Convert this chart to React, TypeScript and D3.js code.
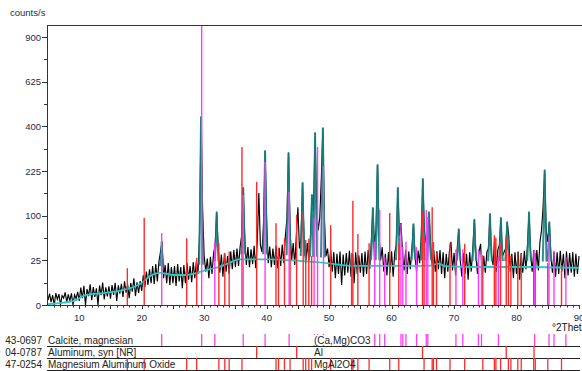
import React from 'react';
import * as d3 from 'd3';

// ---------- data ----------
const yTicks = [0, 25, 100, 225, 400, 625, 900];
const yMinorTicks = [6.25, 56.25, 156.25, 306.25, 506.25, 756.25];
const xTicks = [10, 20, 30, 40, 50, 60, 70, 80, 90];
const xMinorTicks = d3.range(6, 90, 1);

// background (counts) at 2theta
const bgTheta = [5, 7.5, 9.5, 11, 14, 17, 20, 21.5, 23, 25, 27, 30, 32.5, 34.5, 35.5, 40, 45, 50, 52, 55, 61, 66, 67.5, 68.5, 74, 82, 90];
const bgCounts = [0.01, 0.07, 0.3, 1.2, 1.8, 2.8, 6.1, 11, 13, 11.3, 11.3, 14.8, 18.4, 23.5, 26.2, 26.2, 24.6, 21.8, 20, 19.1, 19.1, 19.1, 21.5, 19, 18.1, 18.1, 17.2];

// observed counts, 2theta 5..90 step 0.25
const obsStart = 5;
const obsStep = 0.25;
const observed = [
  0.3, 1.6, 0.1, 1.2, 0, 1.8, 0.4, 1.5, 0, 1.1, 0.6, 2.0, 0.1, 1.4, 0.2, 1.7, 0, 1.3, 0.5, 2.2,
  0.2, 3.8, 0.6, 4.6, 0, 3.2, 1.0, 5.4, 0.3, 4.0, 0.8, 3.5, 0, 4.8, 1.2, 6.3, 0.4, 3.9, 0.9, 4.4,
  0.5, 5.0, 1.3, 6.2, 0.2, 4.8, 1.6, 5.6, 0.8, 7.0, 1.9, 5.2, 0.6, 6.0, 2.2, 9.0, 1.0, 6.4, 1.8, 7.2,
  2.5, 11, 4, 14, 5, 16, 6, 19, 5.5, 21, 7, 23, 35, 50, 9, 20, 6, 22, 5, 18,
  6, 19, 4.5, 21, 7, 18, 3.5, 20, 6, 22, 8, 19, 6.5, 23, 9, 24, 12, 60, 443, 110,
  30, 14, 27, 9, 29, 12, 33, 45, 108, 40, 13, 32, 10, 34, 14, 30, 12, 36, 16, 38,
  18, 40, 19, 42, 60, 172, 55, 20, 42, 18, 39, 21, 44, 17, 50, 157, 45, 35, 80, 297,
  90, 22, 43, 18, 40, 20, 44, 17, 41, 19, 46, 22, 60, 95, 290, 70, 25, 48, 20, 60,
  120, 40, 55, 187, 50, 22, 48, 25, 55, 152, 110, 371, 120, 70, 95, 200, 392, 90, 30, 40,
  18, 38, 14, 35, 9, 33, 12, 36, 5, 32, 11, 34, 13, 37, 10, 33, 6, 35, 12, 31,
  13, 34, 10, 36, 12, 38, 16, 50, 118, 45, 70, 246, 60, 25, 42, 14, 33, 11, 35, 13,
  36, 10, 34, 45, 172, 60, 84, 35, 15, 38, 12, 36, 16, 40, 82, 30, 14, 37, 22, 60,
  199, 70, 50, 55, 108, 45, 20, 38, 14, 36, 16, 38, 12, 35, 9, 33, 14, 36, 50, 15,
  34, 11, 40, 72, 25, 10, 34, 12, 33, 8, 35, 14, 40, 91, 30, 12, 36, 47, 10, 30,
  13, 35, 40, 104, 30, 20, 58, 14, 38, 45, 95, 30, 35, 40, 86, 61, 14, 33, 9, 35,
  12, 36, 8, 34, 13, 37, 16, 45, 108, 35, 14, 36, 12, 38, 15, 50, 70, 120, 228, 70,
  50, 86, 30, 13, 36, 10, 35, 12, 37, 14, 33, 9, 36, 11, 34, 13, 35, 10, 33, 12,
  30,
];

// fitted peaks (teal)
const peakPos = [23.2, 29.5, 32.0, 36.25, 39.75, 43.5, 45.75, 47.25, 47.75, 49.0, 57.0, 57.75, 61.0, 63.5, 65.0, 66.0, 70.75, 73.25, 75.75, 77.5, 78.5, 82.0, 84.5, 85.25];
const peakTop = [50, 443, 108, 172, 297, 290, 187, 152, 371, 392, 118, 246, 172, 82, 199, 108, 72, 91, 104, 95, 86, 108, 228, 86];

// reference patterns
const calcitePos = [23.2, 29.6, 31.7, 36.25, 39.75, 43.6, 47.6, 48.15, 49.1, 57.3, 58.1, 58.9, 61.5, 61.8, 62.3, 64.0, 65.55, 65.8, 70.3, 71.4, 73.9, 74.4, 77.1, 82.9, 85.2, 86.0, 87.9];
const calciteInt = [65, 983, 50, 152, 256, 160, 95, 313, 242, 50, 113, 29, 82, 42, 50, 42, 113, 97, 39, 39, 39, 33, 29, 37, 60, 37, 29];
const alPos = [38.4, 44.8, 64.95, 78.35, 82.8];
const alInt = [190, 102, 108, 58, 38];
const spinelPos = [17.7, 20.4, 27.2, 28.8, 32.35, 33.3, 34.0, 36.05, 41.5, 41.9, 42.85, 43.75, 45.85, 46.25, 46.75, 47.2, 50.25, 53.6, 53.8, 54.6, 56.4, 59.7, 61.15, 65.2, 66.5, 66.7, 67.2, 69.35, 71.7, 74.6, 76.45, 76.7, 77.45, 78.7, 79.1, 80.2, 80.75, 82.75, 83.0, 85.0, 87.2];
const spinelInt = [17, 95, 56, 28, 48, 34, 36, 313, 84, 41, 56, 40, 108, 53, 55, 30, 80, 34, 136, 63, 48, 106, 48, 58, 120, 50, 34, 48, 47, 31, 61, 56, 48, 33, 30, 33, 33, 38, 34, 22, 20];

const legendCodes = ['43-0697', '04-0787', '47-0254'];
const legendNames = ['Calcite, magnesian', 'Aluminum, syn [NR]', 'Magnesium Aluminum Oxide'];
const legendFormulas = ['(Ca,Mg)CO3', 'Al', 'MgAl2O4'];

// ---------- layout ----------
const W = 582;
const H = 371;
const left = 47;
const top = 25;
const bottom = 305;
const xRight = 579;
const FONT = 'Liberation Sans, Arial, Helvetica, sans-serif';
const LABEL = '#1e2a4e';
const RED = '#ff2b2b';
const MAG = '#ff3cff';
const TEAL = '#1a8282';
const CYAN = '#22cccc';

export default function App() {
  const x = d3.scaleLinear().domain([5, 90]).range([left + 1, xRight]);
  const y = d3.scaleSqrt().domain([0, 983]).range([bottom, top]);
  const bg = d3.scaleLinear().domain(bgTheta).range(bgCounts).clamp(true);

  const obsPts: [number, number][] = observed.map((v, i) => [obsStart + i * obsStep, v]);
  const obsLine = d3.line<[number, number]>().x(d => x(d[0])).y(d => y(d[1]))(obsPts) || '';

  const bgLine = d3.line<number>().x(d => x(d)).y((d, i) => y(bgCounts[i])).curve(d3.curveMonotoneX)(bgTheta) || '';

  const peakPaths = peakPos.map((p, i) => {
    const base = bg(p);
    const pts: [number, number][] = [
      [p - 0.3, base + 6],
      [p - 0.1, base + (peakTop[i] - base) * 0.45],
      [p, peakTop[i]],
      [p + 0.1, base + (peakTop[i] - base) * 0.45],
      [p + 0.3, base + 6],
    ];
    return d3.line<[number, number]>().x(d => x(d[0])).y(d => y(d[1]))(pts) || '';
  });

  const sticks = (pos: number[], ints: number[], color: string, key: string) =>
    pos.map((p, i) => (
      <line key={key + i} x1={x(p)} x2={x(p)} y1={bottom} y2={y(ints[i])} stroke={color} strokeWidth={1.4} />
    ));

  const rowLines = [346, 358, 370];
  const rowPhases = [
    { pos: calcitePos, color: MAG },
    { pos: alPos, color: RED },
    { pos: spinelPos, color: RED },
  ];

  return (
    <svg width={W} height={H} style={{ position: 'fixed', left: 0, top: 0, background: '#fff' }} fontFamily={FONT}>
      <rect x={0} y={0} width={W} height={H} fill="#fff" />
      {/* y axis label */}
      <text x={10} y={16} fontSize={9.5} fill={LABEL}>counts/s</text>

      {/* data */}
      <g>
        <path d={obsLine} fill="none" stroke="#000" strokeWidth={1.15} strokeLinejoin="miter" />
        {peakPaths.map((d, i) => (
          <path key={'pk' + i} d={d} fill="none" stroke={TEAL} strokeWidth={2} strokeLinejoin="round" opacity={0.9} />
        ))}
        <path d={bgLine} fill="none" stroke={CYAN} strokeWidth={1.8} />
      </g>

      {/* reference sticks */}
      {sticks(spinelPos, spinelInt, RED, 'sp')}
      {sticks(alPos, alInt, RED, 'al')}
      {sticks(calcitePos, calciteInt, MAG, 'ca')}

      {/* frame */}
      <line x1={left + 0.5} x2={left + 0.5} y1={top} y2={bottom + 0.5} stroke="#333" strokeWidth={1} />
      <line x1={left} x2={W} y1={top + 0.5} y2={top + 0.5} stroke="#333" strokeWidth={1} />
      <line x1={left} x2={xRight + 1} y1={bottom + 0.5} y2={bottom + 0.5} stroke="#333" strokeWidth={1} />

      {/* y ticks */}
      {yTicks.map(t => (
        <g key={'yt' + t}>
          <line x1={left - 5} x2={left} y1={Math.round(y(t)) + 0.5} y2={Math.round(y(t)) + 0.5} stroke="#333" />
          <text x={left - 6} y={y(t) + 3.5} fontSize={9.5} textAnchor="end" fill={LABEL}>{t}</text>
        </g>
      ))}
      {yMinorTicks.map(t => (
        <line key={'ym' + t} x1={left - 3} x2={left} y1={Math.round(y(t)) + 0.5} y2={Math.round(y(t)) + 0.5} stroke="#333" />
      ))}

      {/* x ticks */}
      {xMinorTicks.map(t => (
        <line key={'xm' + t} x1={Math.round(x(t)) + 0.5} x2={Math.round(x(t)) + 0.5} y1={bottom} y2={bottom + (t % 5 === 0 ? 4 : 2.5)} stroke="#333" />
      ))}
      {xTicks.map(t => (
        <g key={'xt' + t}>
          <line x1={Math.round(x(t)) + 0.5} x2={Math.round(x(t)) + 0.5} y1={bottom} y2={bottom + 4} stroke="#333" />
          <text x={x(t)} y={321} fontSize={9.5} textAnchor="middle" fill={LABEL}>{t}</text>
        </g>
      ))}
      <text x={552} y={331} fontSize={10} fill="#111">°2Theta</text>

      {/* legend rows */}
      {rowPhases.map((ph, r) => (
        <g key={'row' + r}>
          {ph.pos.map((p, i) => (
            <line key={'rt' + r + i} x1={x(p)} x2={x(p)} y1={rowLines[r] - 12} y2={rowLines[r]} stroke={ph.color} strokeWidth={1.3} />
          ))}
          {r === 0 && <rect x={313} y={335} width={58} height={10} fill="#fff" />}
          <line x1={left} x2={xRight + 1} y1={rowLines[r] + 0.5} y2={rowLines[r] + 0.5} stroke="#222" strokeWidth={1} />
          <text x={42} y={rowLines[r] - 2} fontSize={10} textAnchor="end" fill="#222">{legendCodes[r]}</text>
          <text x={48} y={rowLines[r] - 2} fontSize={10} fill="#222">{legendNames[r]}</text>
          <text x={314} y={rowLines[r] - 2} fontSize={10} fill="#222">{legendFormulas[r]}</text>
        </g>
      ))}
    </svg>
  );
}
